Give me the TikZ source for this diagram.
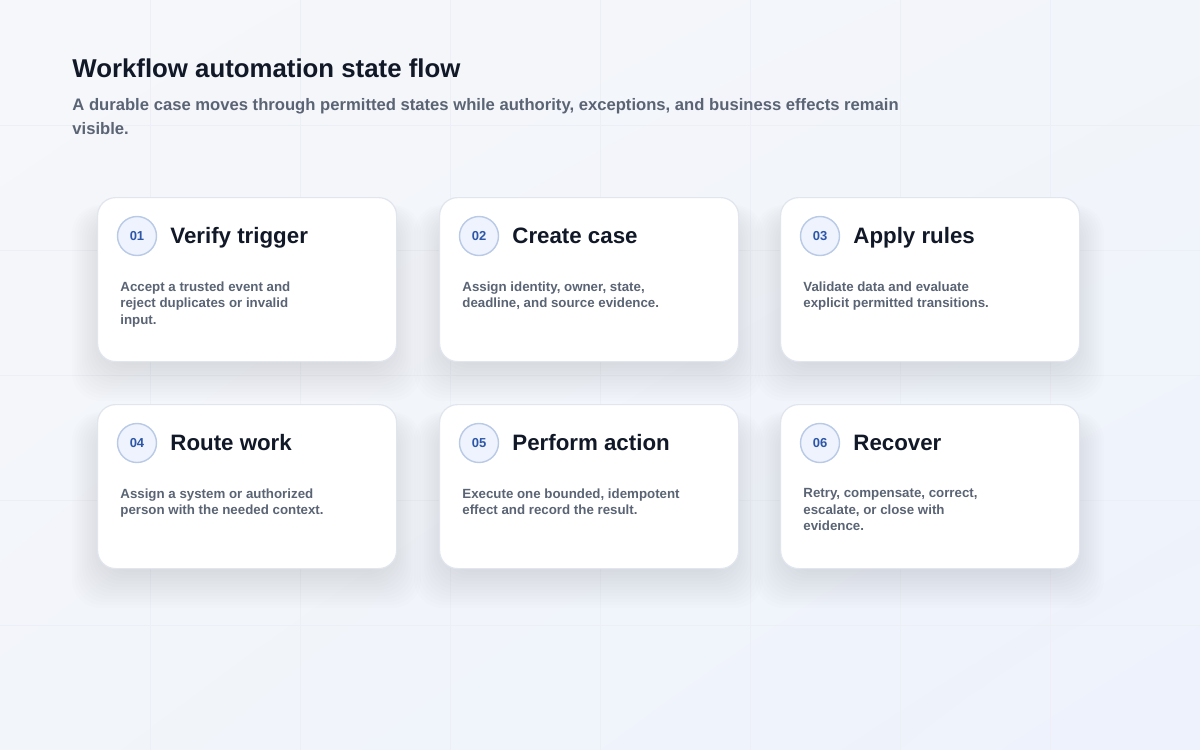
\documentclass[tikz,border=0pt]{standalone}
\usepackage{fontspec}
\setmainfont{Liberation Sans}
\usetikzlibrary{positioning,shadings}
\definecolor{ink}{HTML}{111827}
\definecolor{slate}{HTML}{5A6474}
\definecolor{numblue}{HTML}{2D56A8}
\definecolor{ringblue}{HTML}{B9CAE7}
\definecolor{ringfill}{HTML}{EEF3FD}
\definecolor{cardline}{HTML}{E0E5EE}
\definecolor{gridline}{HTML}{ECEFF5}
\definecolor{bgtop}{HTML}{F6F7FA}
\definecolor{bgmid}{HTML}{F2F5FA}
\definecolor{bgbottom}{HTML}{EDF2FC}
\definecolor{shadowtint}{HTML}{2A3560}
\tikzset{card/.style={draw=cardline,line width=0.6pt,fill=white,rounded corners=9pt,minimum width=149.5pt,minimum height=82pt,inner sep=0,anchor=north west},
         numdot/.style={circle,draw=ringblue,line width=0.7pt,fill=ringfill,minimum size=19.5pt,inner sep=0,text=numblue,font=\fontsize{6.5pt}{7pt}\selectfont\bfseries},
         cardtitle/.style={anchor=base west,inner sep=0,text=ink,font=\fontsize{11.15pt}{13pt}\selectfont\bfseries},
         cardtext/.style={anchor=north west,inner sep=0,align=left,text=slate,font=\fontsize{6.65pt}{8.25pt}\selectfont\bfseries}
}

\begin{document}
\begin{tikzpicture}[x=0.5pt,y=-0.5pt]
  \useasboundingbox (0,0) rectangle (1200,750);
  \shade[upper left=bgtop,upper right=bgmid,lower left=bgmid,lower right=bgbottom] (0,0) rectangle (1200,750);
  \foreach\gx in {150,300,...,1050} \draw[gridline,line width=0.5pt](\gx,0)--(\gx,750);
  \foreach\gy in {125,250,...,625} \draw[gridline,line width=0.5pt](0,\gy)--(1200,\gy);

  \node[anchor=base west,inner sep=0,text=ink,font=\fontsize{12.9pt}{15pt}\selectfont\bfseries] (title) at (72,77.5) {Workflow automation state flow};
  \node[anchor=north west,inner sep=0,align=left,text=slate,font=\fontsize{8.32pt}{12pt}\selectfont\bfseries] (subtitle) at (72,98) {A durable case moves through permitted states while authority, exceptions, and business effects remain\\visible.};

  \foreach\num/\cx/\cy/\head/\txt in {01/97/197/Verify trigger/{Accept a trusted event and\\reject duplicates or invalid\\input.},
                                      02/439/197/Create case/{Assign identity, owner, state,\\deadline, and source evidence.},
                                      03/780/197/Apply rules/{Validate data and evaluate\\explicit permitted transitions.},
                                      04/97/404/Route work/{Assign a system or authorized\\person with the needed context.},
                                      05/439/404/Perform action/{Execute one bounded, idempotent\\effect and record the result.},
                                      06/780/404/Recover/{Retry, compensate, correct,\\escalate, or close with\\evidence.}} {
     % soft shadow under the card
     \foreach\i in {1,...,14}
        \fill[shadowtint,opacity=0.009,rounded corners=14pt](\cx+10-\i*2.5,\cy+22-\i)rectangle(\cx+289+\i*2.5,\cy+162+\i*3);
     \node[card] (card\num) at (\cx,\cy) {};
     \node[numdot] (dot\num) at ([shift={(40,39)}]card\num.north west) {\num};
     \node[cardtitle] (head\num) at ([shift={(73,46.5)}]card\num.north west) {\head};
     \node[cardtext] (text\num) at ([shift={(23,84)}]card\num.north west) {\txt};
  }
\end{tikzpicture}
\end{document}
